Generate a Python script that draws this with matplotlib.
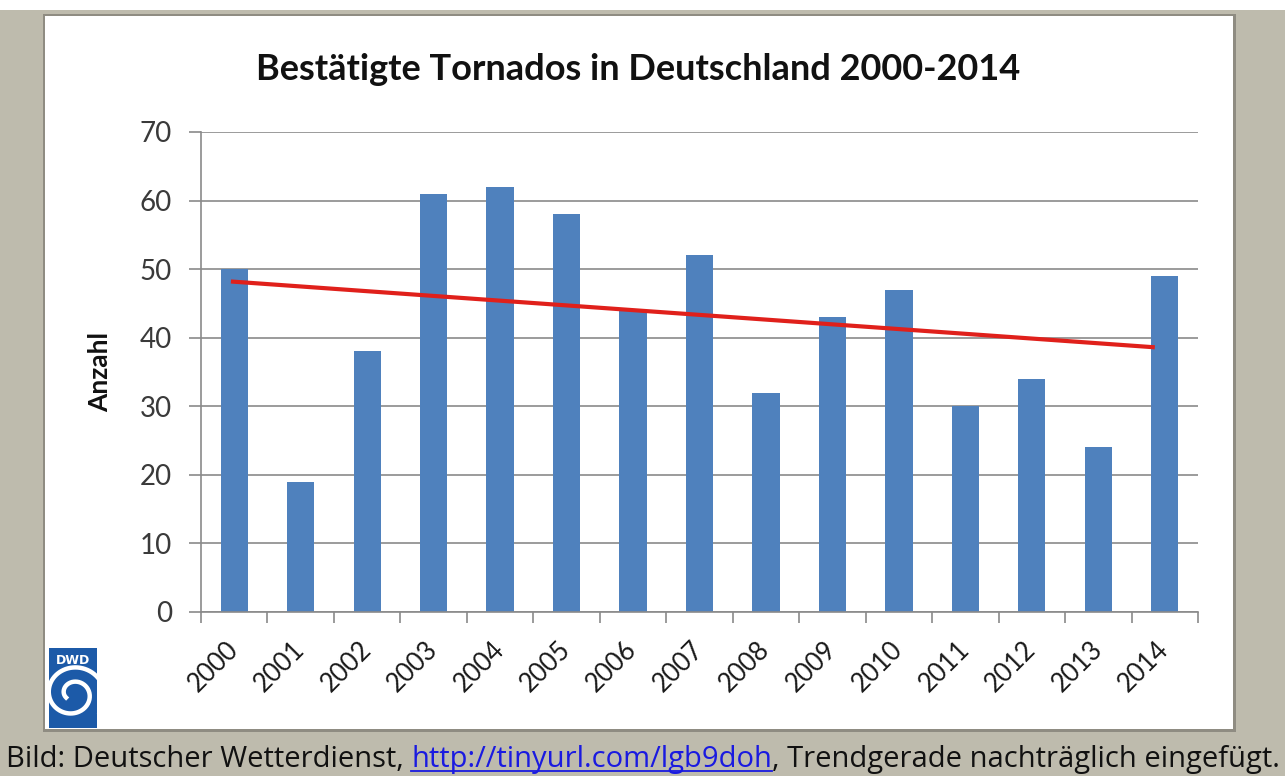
import numpy as np
import matplotlib
matplotlib.use('Agg')
import matplotlib.pyplot as plt
from matplotlib.patches import Rectangle
from matplotlib.transforms import ScaledTranslation

# data
years = ['2000', '2001', '2002', '2003', '2004', '2005', '2006', '2007',
         '2008', '2009', '2010', '2011', '2012', '2013', '2014']
counts = [50, 19, 38, 61, 62, 58, 44, 52, 32, 43, 47, 30, 34, 24, 49]
trend_years = [-0.05, 13.85]   # hand-drawn trend line, start/end in category units
trend_vals = [48.2, 38.6]

title = 'Bestätigte Tornados in Deutschland 2000-2014'
ylabel = 'Anzahl'
caption_parts = ['Bild: Deutscher Wetterdienst, ', 'http://tinyurl.com/lgb9doh',
                 ', Trendgerade nachträglich eingefügt.']

plt.rcParams['font.family'] = ['Lato', 'DejaVu Sans']

W, H = 1285, 776
fig = plt.figure(figsize=(W / 100, H / 100), dpi=100)
fig.patch.set_facecolor('#bebbad')

def px(x0, y0, w, h):
    # pixel box (top-left origin) -> figure fraction
    return (x0 / W, 1 - (y0 + h) / H, w / W, h / H)

# white strip at top of the screenshot
fig.add_artist(Rectangle(px(0, 0, W, 10)[:2], 1, 10 / H, transform=fig.transFigure,
                         facecolor='white', edgecolor='none', zorder=0))
# panel shadow + white panel
x, y, w, h = px(45, 16, 1188, 713)
fig.add_artist(Rectangle((x - 2 / W, y - 3 / H), w + 5 / W, h + 5 / H, transform=fig.transFigure,
                         facecolor='#8f8c82', edgecolor='none', zorder=0))
fig.add_artist(Rectangle((x, y), w, h, transform=fig.transFigure,
                         facecolor='white', edgecolor='none', zorder=0))

ax = fig.add_axes(px(201, 132, 997, 480))
ax.set_facecolor('none')
pos = np.arange(len(years))
ax.bar(pos, counts, width=0.41, color='#4f81bd', zorder=2)
ax.plot(trend_years, trend_vals, color='#e0201b', lw=3, zorder=3, solid_capstyle='butt')

ax.set_xlim(-0.5, len(years) - 0.5)
ax.set_ylim(0, 70)
ax.set_yticks(range(0, 71, 10))
ax.grid(axis='y', color='#8a8a8a', lw=1.2, zorder=1)
ax.set_axisbelow(True)
for s in ['top', 'right']:
    ax.spines[s].set_visible(False)
ax.spines['left'].set_color('#8a8a8a')
ax.spines['bottom'].set_color('#8a8a8a')
ax.spines['left'].set_linewidth(1.2)
ax.spines['bottom'].set_linewidth(1.2)

ax.set_xticks(np.arange(-0.5, len(years), 1.0))
ax.set_xticklabels([])
ax.set_xticks(pos, minor=True)
ax.set_xticklabels(years, minor=True, rotation=45, ha='right', va='center',
                   rotation_mode='anchor', fontsize=18.5, color='#1a1a1a')
shift = ScaledTranslation(6 / 100, 0, fig.dpi_scale_trans)
for lab in ax.get_xticklabels(minor=True):
    lab.set_transform(lab.get_transform() + shift)
ax.tick_params(axis='x', which='major', length=8, color='#8a8a8a', width=1.2)
ax.tick_params(axis='x', which='minor', length=0, pad=24)
ax.tick_params(axis='y', length=9, color='#8a8a8a', width=1.2, labelsize=20,
               labelcolor='#3a3a3a', pad=12)

ax.set_ylabel(ylabel, fontsize=19, fontweight='bold', labelpad=20, color='#111111')

fig.text(638 / W, 1 - 70 / H, title, ha='center', va='center',
         fontsize=26, fontweight='bold', color='#111111')

# DWD logo
lx, ly, lw, lh = px(49, 648, 48, 80)
fig.add_artist(Rectangle((lx, ly), lw, lh, transform=fig.transFigure,
                         facecolor='#1c5aa8', edgecolor='none', zorder=1))
fig.text(lx + lw / 2, 1 - 660 / H, 'DWD', ha='center', va='center', fontsize=9,
         fontweight='bold', color='white', family='DejaVu Sans')
t = np.linspace(0, 4.2 * np.pi, 300)
r = 1.5 + 2.4 * t
sx = (73 + r * np.cos(t)) / W
sy = 1 - (694 + r * np.sin(t) * 0.95) / H
fig.add_artist(plt.Line2D(sx[::-1][:240], sy[::-1][:240], transform=fig.transFigure,
                          color='white', lw=3.2, zorder=2))

# caption, three pieces with blue underlined link, fitted to the width
fig.canvas.draw()
renderer = fig.canvas.get_renderer()
probe = fig.text(0, 0, ''.join(caption_parts), fontsize=22, family='Open Sans')
full_w = probe.get_window_extent(renderer).width
probe.remove()
fs = 22 * 1272 / full_w

xcur = 6
for i, part in enumerate(caption_parts):
    col = '#1a1ae0' if i == 1 else '#111111'
    tx = fig.text(xcur / W, 1 - 767 / H, part, ha='left', va='baseline',
                  fontsize=fs, color=col, family='Open Sans')
    bb = tx.get_window_extent(renderer)
    if i == 1:
        fig.add_artist(plt.Line2D([xcur / W, (xcur + bb.width) / W],
                                  [1 - 771 / H, 1 - 771 / H], transform=fig.transFigure,
                                  color=col, lw=1.3))
    xcur += bb.width

fig.savefig('out.png', dpi=100, facecolor=fig.get_facecolor())
